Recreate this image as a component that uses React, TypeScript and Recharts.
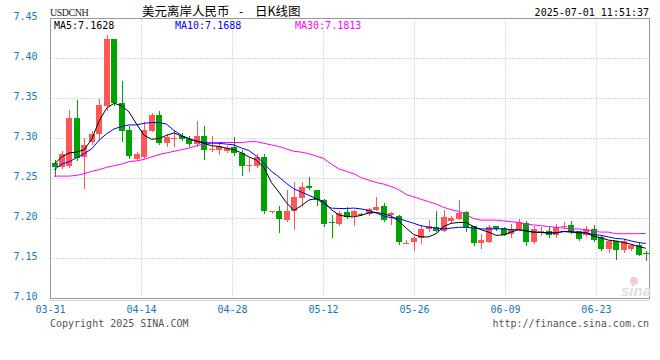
import React from 'react';
import {
  ComposedChart,
  Bar,
  Line,
  XAxis,
  YAxis,
  CartesianGrid,
  ReferenceArea
} from 'recharts';

// trading days (sina keeps a Saturday bar for fx)
const dates = [
  '03-31', '04-01', '04-02', '04-03', '04-04', '04-05',
  '04-07', '04-08', '04-09', '04-10', '04-11', '04-12',
  '04-14', '04-15', '04-16', '04-17', '04-18', '04-19',
  '04-21', '04-22', '04-23', '04-24', '04-25', '04-26',
  '04-28', '04-29', '04-30', '05-01', '05-02', '05-03',
  '05-05', '05-06', '05-07', '05-08', '05-09', '05-10',
  '05-12', '05-13', '05-14', '05-15', '05-16', '05-17',
  '05-19', '05-20', '05-21', '05-22', '05-23', '05-24',
  '05-26', '05-27', '05-28', '05-29', '05-30', '05-31',
  '06-02', '06-03', '06-04', '06-05', '06-06', '06-07',
  '06-09', '06-10', '06-11', '06-12', '06-13', '06-14',
  '06-16', '06-17', '06-18', '06-19', '06-20', '06-21',
  '06-23', '06-24', '06-25', '06-26', '06-27', '06-28',
  '06-30', '07-01'
];

const opens = [
  7.269, 7.264, 7.266, 7.326, 7.277, 7.296, 7.306, 7.341, 7.425, 7.345,
  7.311, 7.274, 7.277, 7.310, 7.329, 7.295, 7.2995, 7.3025, 7.299, 7.293,
  7.3025, 7.285, 7.286, 7.2846, 7.289, 7.282, 7.266, 7.266, 7.2775, 7.208,
  7.2096, 7.198, 7.209, 7.226, 7.241, 7.235, 7.223, 7.1955, 7.193, 7.208,
  7.203, 7.2056, 7.2054, 7.211, 7.215, 7.2046, 7.203, 7.169, 7.170, 7.175,
  7.187, 7.189, 7.185, 7.197, 7.1996, 7.208, 7.190, 7.169, 7.171, 7.190,
  7.188, 7.1804, 7.1867, 7.1942, 7.170, 7.1825, 7.1838, 7.1788, 7.1888, 7.1921,
  7.1838, 7.1788, 7.1867, 7.1767, 7.1621, 7.1713, 7.160, 7.1621, 7.1663, 7.1575
];

const closes = [
  7.264, 7.280, 7.325, 7.276, 7.292, 7.306, 7.342, 7.425, 7.344, 7.309,
  7.278, 7.280, 7.311, 7.329, 7.294, 7.302, 7.3005, 7.299, 7.293, 7.3025,
  7.285, 7.287, 7.290, 7.288, 7.282, 7.266, 7.267, 7.2775, 7.209, 7.209,
  7.199, 7.2096, 7.227, 7.239, 7.238, 7.223, 7.193, 7.195, 7.2075, 7.2025,
  7.209, 7.2052, 7.212, 7.2142, 7.198, 7.2067, 7.170, 7.1695, 7.176, 7.187,
  7.190, 7.185, 7.2025, 7.201, 7.2075, 7.189, 7.169, 7.1725, 7.189, 7.187,
  7.1796, 7.1867, 7.195, 7.170, 7.187, 7.185, 7.1796, 7.1888, 7.1908, 7.1829,
  7.1746, 7.1867, 7.1733, 7.1621, 7.1721, 7.160, 7.1713, 7.1663, 7.1546, 7.1563
];

const highs = [
  7.273, 7.284, 7.336, 7.348, 7.301, 7.309, 7.350, 7.430, 7.425, 7.372,
  7.315, 7.283, 7.320, 7.332, 7.335, 7.306, 7.311, 7.307, 7.303, 7.3225,
  7.315, 7.303, 7.296, 7.290, 7.302, 7.286, 7.275, 7.280, 7.281, 7.2095,
  7.216, 7.235, 7.246, 7.246, 7.252, 7.236, 7.224, 7.2046, 7.209, 7.214,
  7.210, 7.207, 7.213, 7.2263, 7.220, 7.208, 7.204, 7.173, 7.178, 7.192,
  7.198, 7.209, 7.210, 7.203, 7.2233, 7.209, 7.191, 7.181, 7.192, 7.191,
  7.189, 7.1933, 7.1992, 7.197, 7.190, 7.189, 7.190, 7.1933, 7.195, 7.1971,
  7.185, 7.190, 7.1921, 7.178, 7.173, 7.172, 7.1742, 7.168, 7.170, 7.159
];

const lows = [
  7.253, 7.263, 7.264, 7.273, 7.238, 7.293, 7.300, 7.336, 7.342, 7.297,
  7.275, 7.273, 7.276, 7.309, 7.293, 7.290, 7.290, 7.298, 7.290, 7.291,
  7.274, 7.284, 7.280, 7.283, 7.279, 7.255, 7.259, 7.265, 7.207, 7.2075,
  7.1825, 7.197, 7.187, 7.215, 7.237, 7.217, 7.190, 7.1767, 7.192, 7.201,
  7.192, 7.204, 7.204, 7.210, 7.197, 7.193, 7.168, 7.169, 7.160, 7.169,
  7.184, 7.184, 7.184, 7.196, 7.199, 7.184, 7.167, 7.163, 7.170, 7.186,
  7.179, 7.1767, 7.186, 7.167, 7.169, 7.180, 7.1767, 7.177, 7.188, 7.182,
  7.1725, 7.178, 7.172, 7.161, 7.1575, 7.1496, 7.1575, 7.161, 7.154, 7.1475
];

const ma5 = [
  7.268, 7.277, 7.282, 7.283, 7.286, 7.299, 7.322, 7.338, 7.344, 7.341,
  7.333, 7.318, 7.304, 7.299, 7.300, 7.304, 7.307, 7.303, 7.300, 7.2965,
  7.294, 7.291, 7.290, 7.288, 7.286, 7.282, 7.277, 7.273, 7.264, 7.245,
  7.233, 7.220, 7.210, 7.216, 7.223, 7.225, 7.221, 7.211, 7.2045, 7.2025,
  7.202, 7.204, 7.207, 7.2075, 7.206, 7.203, 7.197, 7.188, 7.180, 7.177,
  7.177, 7.181, 7.190, 7.194, 7.195, 7.195, 7.190, 7.186, 7.183, 7.179,
  7.1795, 7.183, 7.186, 7.185, 7.183, 7.1825, 7.182, 7.182, 7.184, 7.183,
  7.182, 7.182, 7.178, 7.176, 7.173, 7.172, 7.170, 7.168, 7.165, 7.1628
];

const ma10 = [
  7.261, 7.268, 7.271, 7.276, 7.281, 7.287, 7.298, 7.306, 7.312, 7.315,
  7.317, 7.317, 7.319, 7.320, 7.320, 7.318, 7.310, 7.304, 7.299, 7.297,
  7.295, 7.2945, 7.294, 7.293, 7.292, 7.288, 7.285, 7.278, 7.269, 7.259,
  7.252, 7.244, 7.237, 7.233, 7.229, 7.225, 7.218, 7.213, 7.2125, 7.2125,
  7.213, 7.212, 7.210, 7.207, 7.203, 7.201, 7.200, 7.197, 7.194, 7.191,
  7.189, 7.188, 7.187, 7.188, 7.189, 7.189, 7.188, 7.187, 7.187, 7.187,
  7.187, 7.186, 7.186, 7.184, 7.183, 7.1825, 7.182, 7.182, 7.1835, 7.1835,
  7.183, 7.182, 7.180, 7.179, 7.177, 7.175, 7.1745, 7.172, 7.170, 7.1688
];

const ma30 = [
  7.253, 7.253, 7.253, 7.254, 7.256, 7.259, 7.261, 7.264, 7.266, 7.268,
  7.271, 7.272, 7.274, 7.277, 7.280, 7.282, 7.284, 7.286, 7.288, 7.291,
  7.293, 7.294, 7.295, 7.295, 7.295, 7.295, 7.296, 7.296, 7.294, 7.292,
  7.290, 7.287, 7.284, 7.283, 7.281, 7.278, 7.275, 7.268, 7.262, 7.259,
  7.256, 7.251, 7.248, 7.245, 7.243, 7.240, 7.236, 7.230, 7.227, 7.224,
  7.221, 7.218, 7.214, 7.211, 7.209, 7.205, 7.200, 7.198, 7.198, 7.198,
  7.197, 7.196, 7.195, 7.193, 7.192, 7.191, 7.190, 7.189, 7.188, 7.187,
  7.187, 7.186, 7.184, 7.183, 7.183, 7.181, 7.181, 7.181, 7.181, 7.1813
];

const yTicks = [7.1, 7.15, 7.2, 7.25, 7.3, 7.35, 7.4, 7.45];
const labelDays = [0, 12, 24, 36, 48, 60, 72];

const RED = '#ff5757';
const GREEN = '#00a400';
const BLUE_TXT = '#1276cc';
const MONO = "'DejaVu Sans Mono', monospace";
const CJK = "'Noto Sans CJK SC', sans-serif";

const data = dates.map((d, i) => ({
  pos: i + 0.5,
  date: d,
  open: opens[i],
  close: closes[i],
  high: highs[i],
  low: lows[i],
  range: [lows[i], highs[i]],
  ma5: ma5[i],
  ma10: ma10[i],
  ma30: ma30[i]
}));

// sina spaces the date grid over n-1 steps while candles take n slots
const gridStep = dates.length / (dates.length - 1);
const xTicks = labelDays.map(d => d * gridStep);

const Candle = (props: any) => {
  const { x, y, width, height, payload } = props;
  if (!payload) return null;
  const { open, close, high, low } = payload;
  const toY = (v: number) => y + ((high - v) / (high - low)) * height;
  const color = close >= open ? RED : GREEN;
  const bx = Math.round(x + width / 2 - 3);
  const wTop = Math.round(Math.min(toY(high), toY(low)));
  const wBot = Math.round(Math.max(toY(high), toY(low)));
  const bTop = Math.round(toY(Math.max(open, close)));
  const bBot = Math.round(toY(Math.min(open, close)));
  return (
    <g>
      <rect x={bx + 3} y={wTop} width={1} height={Math.max(1, wBot - wTop + 1)} fill={color} />
      <rect x={bx} y={bTop} width={6} height={Math.max(1, bBot - bTop)} fill={color} />
    </g>
  );
};

const XTick = (props: any) => {
  const { x, y, payload } = props;
  const idx = Math.round(payload.value / gridStep);
  return (
    <text x={x} y={y + 14} textAnchor="middle" fill={BLUE_TXT} fontSize={10} fontFamily={MONO}>
      {dates[idx]}
    </text>
  );
};

const YTick = (props: any) => {
  const { x, y, payload } = props;
  return (
    <text x={x - 13} y={y + 1} textAnchor="end" fill={BLUE_TXT} fontSize={10} fontFamily={MONO}>
      {Number(payload.value).toFixed(2)}
    </text>
  );
};

export default function App() {
  const last = dates.length - 1;
  return (
    <div style={{ position: 'absolute', left: 0, top: 0, width: 660, height: 360, background: '#fff' }}>
      <ComposedChart
        width={660}
        height={360}
        data={data}
        margin={{ top: 18.5, right: 10.5, bottom: 0, left: 0.5 }}
      >
        <CartesianGrid stroke="#b5b5b5" strokeDasharray="1 2" />
        <XAxis
          type="number"
          dataKey="pos"
          domain={[0, dates.length]}
          ticks={xTicks}
          interval={0}
          allowDataOverflow
          height={61.5}
          tickSize={0}
          tickMargin={0}
          tickLine={false}
          axisLine={{ stroke: '#aaa', strokeDasharray: '1 1', transform: 'translate(0 2)' }}
          tick={<XTick />}
        />
        <YAxis
          domain={[7.1, 7.45]}
          ticks={yTicks}
          interval={0}
          allowDataOverflow
          width={50}
          tickSize={0}
          tickMargin={0}
          tickLine={false}
          axisLine={false}
          tick={<YTick />}
        />
        <ReferenceArea x1={0} x2={dates.length} y1={7.1} y2={7.45} fill="none" stroke="#999" strokeWidth={1} />
        <Bar dataKey="range" barSize={6} shape={(p: any) => <Candle {...p} />} isAnimationActive={false} />
        <Line type="linear" dataKey="ma30" stroke="#ff00ff" strokeWidth={1} dot={false} isAnimationActive={false} />
        <Line type="linear" dataKey="ma10" stroke="#0000ff" strokeWidth={1} dot={false} isAnimationActive={false} />
        <Line type="linear" dataKey="ma5" stroke="#000000" strokeWidth={1} dot={false} isAnimationActive={false} />
      </ComposedChart>
      <svg width={660} height={360} style={{ position: 'absolute', left: 0, top: 0, pointerEvents: 'none' }}>
        <text x={50} y={16} fontSize={10} fontFamily="'Liberation Serif', serif" letterSpacing={-0.5} fill="#222">USDCNH</text>
        <text x={142} y={15.5} fontSize={12.5} fontFamily={CJK} fill="#000">美元离岸人民币</text>
        <text x={239} y={15.5} fontSize={12.5} fontFamily={CJK} fill="#000">-</text>
        <text x={255} y={15.5} fontSize={12.5} fontFamily={CJK} fill="#000">日K线图</text>
        <text x={649} y={15.5} textAnchor="end" fontSize={10} fontFamily={MONO} fill="#000">2025-07-01 11:51:37</text>
        <text x={54} y={29} fontSize={10} fontFamily={MONO} fill="#000">MA5:{ma5[last].toFixed(4)}</text>
        <text x={175} y={29} fontSize={10} fontFamily={MONO} fill="#0000ff">MA10:{ma10[last].toFixed(4)}</text>
        <text x={295} y={29} fontSize={10} fontFamily={MONO} fill="#ff00ff">MA30:{ma30[last].toFixed(4)}</text>
        <circle cx={634} cy={281} r={4} fill="#f6caca" />
        <text x={621} y={296} fontSize={15} fontWeight="bold" fontStyle="italic" fontFamily="'Liberation Sans', sans-serif" fill="#dedede">sina</text>
        <text x={50} y={327} fontSize={10} fontFamily={MONO} fill="#555">Copyright 2025 SINA.COM</text>
        <text x={649} y={327} textAnchor="end" fontSize={10} fontFamily={MONO} fill="#555">http://finance.sina.com.cn</text>
      </svg>
    </div>
  );
}
